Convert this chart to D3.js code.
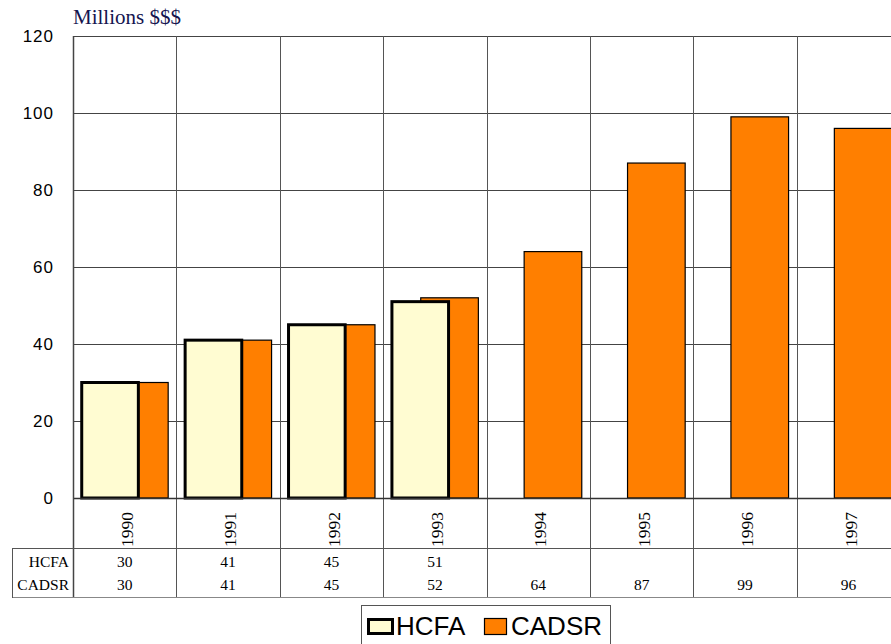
<!DOCTYPE html>
<html><head><meta charset="utf-8">
<script src="https://cdn.jsdelivr.net/npm/d3@7"></script>
<style>body{margin:0;background:#fff;overflow:hidden}</style>
</head><body>
<script>
const years = ["1990","1991","1992","1993","1994","1995","1996","1997"];
const hcfa = [30, 41, 45, 51, null, null, null, null];
const cadsr = [30, 41, 45, 52, 64, 87, 99, 96];
const yTicks = [0, 20, 40, 60, 80, 100, 120];
const seriesNames = ["HCFA", "CADSR"];
const colors = {HCFA: "#fffcd2", CADSR: "#ff7f00"};

(function(){
const W = 891, H = 644;
const pLeft = 73, pTop = 36, pBottom = 498;
const bandW = 103.4;
const svg = d3.select("body").append("svg").attr("width", W).attr("height", H);

const x = d3.scaleBand().domain(years).range([pLeft, pLeft + bandW * years.length]).padding(0);
const y = d3.scaleLinear().domain([0, 120]).range([pBottom, pTop]);
const bw = x.bandwidth();
const barW = bw * 0.567;
const off0 = (bw - barW * 1.5) / 2;
const sx = d3.scaleOrdinal().domain(seriesNames).range([off0, off0 + barW * 0.5]);

// horizontal gridlines
svg.append("g").selectAll("line").data(yTicks).join("line")
  .attr("x1", pLeft).attr("x2", W + 10)
  .attr("y1", d => Math.round(y(d)) + 0.5).attr("y2", d => Math.round(y(d)) + 0.5)
  .attr("stroke", "#444").attr("stroke-width", 1);

// vertical category lines (through table)
svg.append("g").selectAll("line").data(years.concat(["end"])).join("line")
  .attr("x1", (d, i) => Math.round(pLeft + i * bw) + 0.5)
  .attr("x2", (d, i) => Math.round(pLeft + i * bw) + 0.5)
  .attr("y1", pTop).attr("y2", 598)
  .attr("stroke", "#555").attr("stroke-width", 1);

// bars CADSR (behind)
svg.append("g").selectAll("rect").data(years.map((yr, i) => ({yr, v: cadsr[i]})).filter(d => d.v != null)).join("rect")
  .attr("x", d => x(d.yr) + sx("CADSR") + 0.5)
  .attr("y", d => y(d.v))
  .attr("width", barW - 1)
  .attr("height", d => y(0) - y(d.v))
  .attr("fill", colors.CADSR).attr("stroke", "#000").attr("stroke-width", 1.2);

// bars HCFA (front)
svg.append("g").selectAll("rect").data(years.map((yr, i) => ({yr, v: hcfa[i]})).filter(d => d.v != null)).join("rect")
  .attr("x", d => x(d.yr) + sx("HCFA") + 1)
  .attr("y", d => y(d.v))
  .attr("width", barW - 2)
  .attr("height", d => y(0) - y(d.v))
  .attr("fill", colors.HCFA).attr("stroke", "#000").attr("stroke-width", 3);

// axis line at zero & left
svg.append("line").attr("x1", pLeft).attr("x2", W + 10).attr("y1", pBottom + 0.5).attr("y2", pBottom + 0.5)
  .attr("stroke", "#333").attr("stroke-width", 1.5);
svg.append("line").attr("x1", pLeft + 0.5).attr("x2", pLeft + 0.5).attr("y1", pTop).attr("y2", 598)
  .attr("stroke", "#444").attr("stroke-width", 1.5);

// y axis labels
const yAxis = d3.axisLeft(y).tickValues(yTicks).tickSize(0).tickPadding(19);
const gy = svg.append("g").attr("transform", `translate(${pLeft},0)`).call(yAxis);
gy.select(".domain").remove();
gy.selectAll("text").attr("font-family", "Liberation Sans, Arial, sans-serif").attr("font-size", 17)
  .attr("letter-spacing", 1).attr("fill", "#000");

const serif = "Liberation Serif, Times New Roman, serif";
// title
svg.append("text").attr("x", 73).attr("y", 24).text("Millions $$$")
  .attr("font-family", serif).attr("font-size", 21).attr("fill", "#15154f");

// category labels rotated
svg.append("g").selectAll("text").data(years).join("text")
  .attr("transform", d => `translate(${x(d) + bw / 2 + 2},529.5) rotate(-90)`)
  .attr("text-anchor", "middle").attr("dy", "0.35em")
  .attr("font-family", serif).attr("font-size", 17.5)
  .text(d => d);

// table lines
svg.append("line").attr("x1", 12).attr("x2", W + 10).attr("y1", 548.5).attr("y2", 548.5).attr("stroke", "#555");
svg.append("line").attr("x1", 12).attr("x2", W + 10).attr("y1", 597.5).attr("y2", 597.5).attr("stroke", "#888");
svg.append("line").attr("x1", 12.5).attr("x2", 12.5).attr("y1", 548).attr("y2", 598).attr("stroke", "#555");

const rows = [{name: "HCFA", vals: hcfa, y: 567}, {name: "CADSR", vals: cadsr, y: 590}];
rows.forEach(r => {
  svg.append("text").attr("x", 69).attr("y", r.y).attr("text-anchor", "end")
    .attr("font-family", serif).attr("font-size", 15.5).text(r.name);
  svg.append("g").selectAll("text").data(years.map((yr, i) => ({yr, v: r.vals[i]})).filter(d => d.v != null)).join("text")
    .attr("x", d => x(d.yr) + bw / 2).attr("y", r.y).attr("text-anchor", "middle")
    .attr("font-family", serif).attr("font-size", 15.5).text(d => d.v);
});

// legend
const lg = svg.append("g");
lg.append("rect").attr("x", 361.5).attr("y", 605.5).attr("width", 249).attr("height", 50)
  .attr("fill", "#fff").attr("stroke", "#555").attr("stroke-width", 1);
const legItems = [
  {name: "HCFA", x: 368.5, w: 24, y: 619.5, h: 14, tx: 396, sw: 3},
  {name: "CADSR", x: 484.5, w: 22, y: 618.5, h: 16, tx: 511, sw: 1.2}
];
legItems.forEach(it => {
  lg.append("rect").attr("x", it.x).attr("y", it.y).attr("width", it.w).attr("height", it.h)
    .attr("fill", colors[it.name]).attr("stroke", "#000").attr("stroke-width", it.sw);
  lg.append("text").attr("x", it.tx).attr("y", 635).text(it.name)
    .attr("font-family", "Liberation Sans, Arial, sans-serif").attr("font-size", 26);
});
})();
</script>
</body></html>
